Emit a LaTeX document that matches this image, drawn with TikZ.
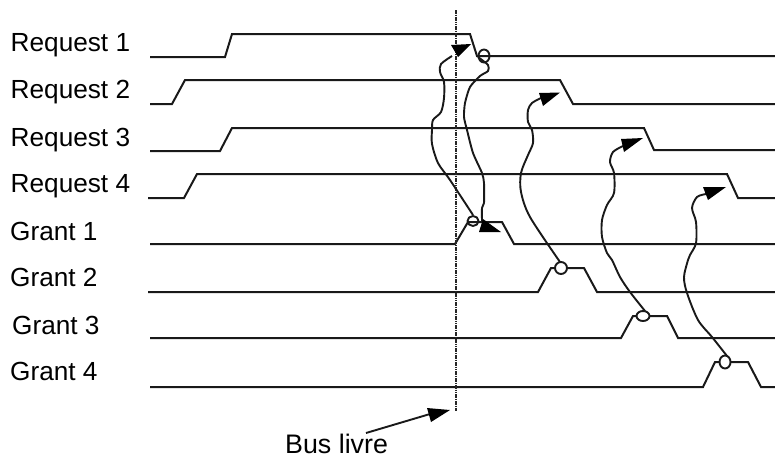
\documentclass[tikz,border=0pt]{standalone}
\usepackage{fontspec}
\setmainfont{Liberation Sans}
\begin{document}
\begin{tikzpicture}[x=1pt,y=-1pt,
  signal/.style={line width=2pt,black!90,line join=miter},
  link/.style={line width=1.9pt,black!90,line join=round},
  head/.style={fill=black,draw=none},
  bus/.style={line width=2pt,black!85,dash pattern=on 1.6pt off 0.7pt},
  lab/.style={anchor=base west,inner sep=0pt,font=\fontsize{26.2}{30}\selectfont}]
\useasboundingbox (0,0) rectangle (775,459);
\node[lab] (l1) at (10.5,51.5) {Request 1};
\node[lab] (l2) at (10.5,98.5) {Request 2};
\node[lab] (l3) at (10.5,146.5) {Request 3};
\node[lab] (l4) at (10.5,192.5) {Request 4};
\node[lab] (l5) at (10,240.5) {Grant 1};
\node[lab] (l6) at (10,286.5) {Grant 2};
\node[lab] (l7) at (12,334.5) {Grant 3};
\node[lab] (l8) at (10,380.5) {Grant 4};
\node[lab,font=\fontsize{26.8}{30}\selectfont] (bl) at (285,453.5) {Bus livre};
% signals
\draw[signal] (150,57)--(225,57)--(232,34)--(470,34)--(477,56)--(775,56);
\draw[signal] (150,104)--(172,104)--(185,80)--(560,80)--(573,104)--(775,104);
\draw[signal] (150,151)--(220,151)--(232,128)--(644,128)--(654,150)--(775,150);
\draw[signal] (148,198)--(184,198)--(197,174)--(727,174)--(738,198)--(775,198);
\draw[signal] (150,244)--(455,244)--(468,222)--(502,222)--(514,244)--(775,244);
\draw[signal] (148,292)--(538,292)--(551,268)--(584,268)--(597,292)--(775,292);
\draw[signal] (150,338)--(621,338)--(633,316)--(667,316)--(678,338)--(775,338);
\draw[signal] (150,387)--(703,387)--(715,362)--(748,362)--(761,387)--(775,387);
% bus line
\coordinate (bt) at (456,10);
\coordinate (bb) at (456,411);
\draw[bus] (bt)--(bb);
% rings
\draw[link] (484,56) ellipse (5.5 and 6.5);
\coordinate (r1) at (478,57);
\draw[link] (473,221) ellipse (5.5 and 5);
\coordinate (g1) at (473,215);
\draw[link,fill=white] (561,268) ellipse (6 and 6);
\coordinate (g2) at (560,262);
\draw[link,fill=white] (643,316) ellipse (6.5 and 5);
\coordinate (g3) at (645,311);
\draw[link,fill=white] (725,362) ellipse (5.5 and 6.5);
\coordinate (g4) at (727,356);
% curves
\draw[link] plot[smooth,tension=0.5] coordinates {(g1) (450,180) (438,163) (432,144) (432,130) (433,120) (441,112) (444,98) (444,82) (440,72) (441,64) (452,56)};
\draw[link] plot[smooth,tension=0.4] coordinates {(r1) (488,65) (488,71) (480,76) (470,87) (465,103) (464,117) (467,130) (473,153) (482,173) (484,183) (484,203) (482,208) (482,222)};
\draw[link] plot[smooth,tension=0.5] coordinates {(g2) (530,217) (521,192) (521,173) (528,155) (533,143) (532,130) (528,122) (528,110) (532,103) (541,98)};
\draw[link] plot[smooth,tension=0.5] coordinates {(g3) (630,292) (620,277) (612,260) (607,253) (602,237) (602,220) (607,205) (614,193) (614,173) (610,162) (613,152) (623,146)};
\draw[link] plot[smooth,tension=0.5] coordinates {(g4) (712,337) (698,320) (687,293) (684,277) (688,260) (690,255) (696,243) (696,222) (692,208) (697,197) (706,194)};
% arrow heads
\fill[head] (471,44)--(451,45)--(458,57)--cycle;
\fill[head] (501,232)--(483,219)--(479,232)--cycle;
\fill[head] (560,92.5)--(539,93)--(543,106)--cycle;
\fill[head] (643,138)--(621,139)--(624,152)--cycle;
\fill[head] (726,187)--(703,187)--(708,200)--cycle;
% bus livre arrow
\coordinate (ba) at (366,433);
\draw[link] (ba)--(430,414);
\fill[head] (450,410)--(427,408)--(431,422)--cycle;
\end{tikzpicture}
\end{document}
